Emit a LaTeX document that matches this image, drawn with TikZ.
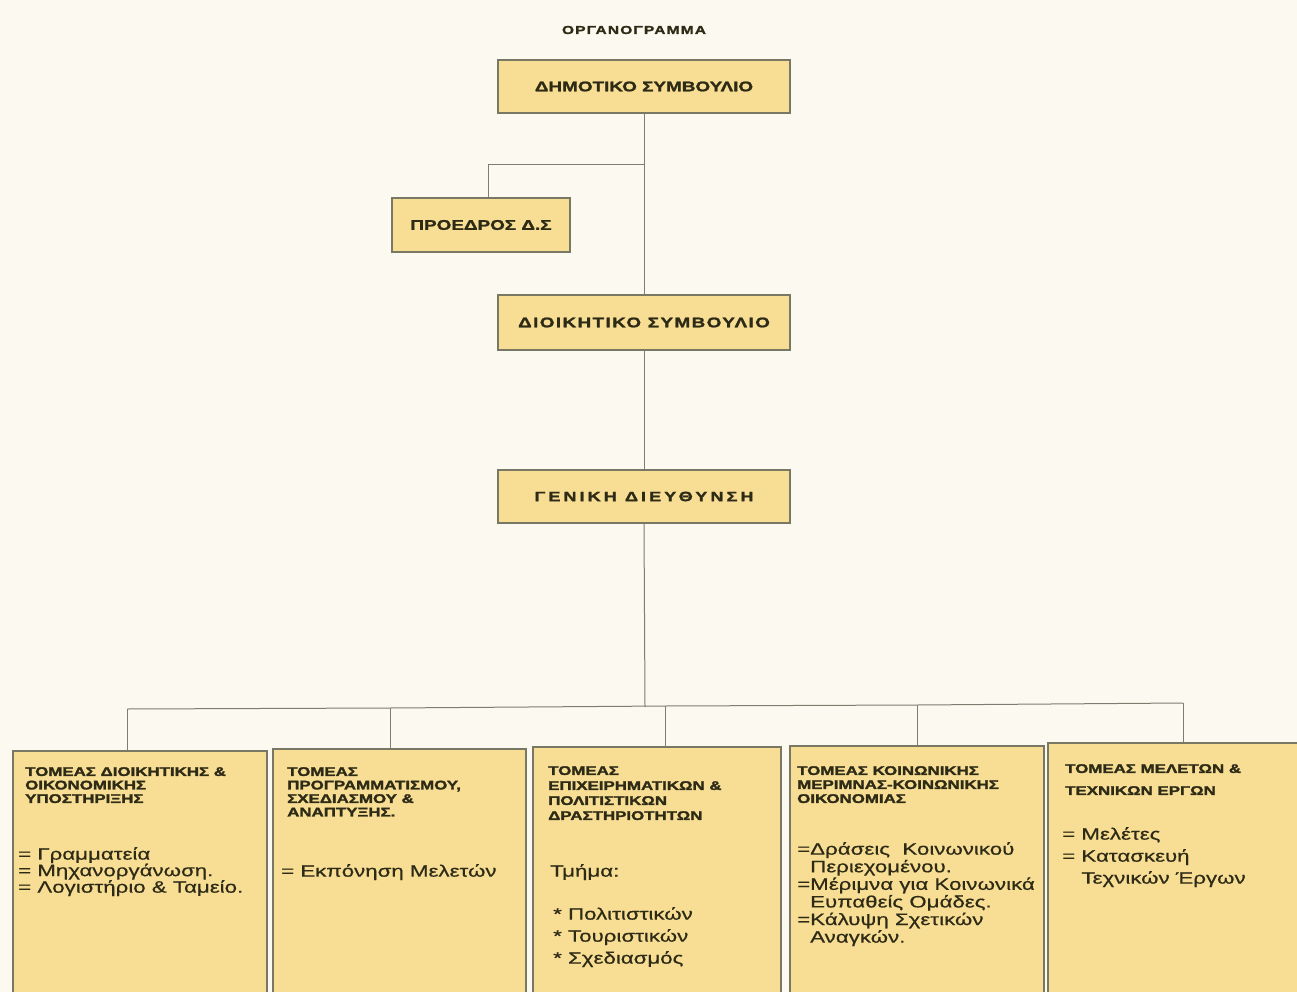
\documentclass[tikz,border=0pt]{standalone}
\usepackage{fontspec}
\setmainfont{Liberation Sans}
\newfontfamily\tbfont[FakeStretch=1.35,FakeBold=1.5]{Liberation Sans Bold}
\newfontfamily\tbwide[FakeStretch=1.35,FakeBold=1.5,LetterSpace=10]{Liberation Sans Bold}
\newfontfamily\tbwider[FakeStretch=1.35,FakeBold=1.5,LetterSpace=22]{Liberation Sans Bold}
\newfontfamily\hdfont[FakeStretch=1.35,FakeBold=2]{Liberation Sans Bold}
\newfontfamily\itfont[FakeStretch=1.35,FakeBold=0.6]{Liberation Sans}
\definecolor{bg}{RGB}{252,250,240}
\definecolor{boxfill}{RGB}{248,222,148}
\definecolor{boxline}{RGB}{120,120,100}
\definecolor{conn}{RGB}{125,125,112}
\definecolor{ink}{RGB}{45,42,22}
\tikzset{
  topbox/.style={draw=boxline, line width=1.6pt, fill=boxfill, inner sep=0pt, text=ink},
  botbox/.style={draw=boxline, line width=1.6pt, fill=boxfill, inner sep=0pt, anchor=north west},
  hdtext/.style={anchor=north west, inner sep=0pt, align=left, text=ink, font=\hdfont\fontsize{12.5}{13.5}\selectfont},
  ittext/.style={anchor=north west, inner sep=0pt, align=left, text=ink},
  connector/.style={draw=conn, line width=1pt}
}
\begin{document}
\begin{tikzpicture}[x=1pt,y=-1pt]
\useasboundingbox (0,0) rectangle (1297,992);
\clip (0,0) rectangle (1297,992);
\fill[bg] (0,0) rectangle (1297,992);

\node[inner sep=0pt, text=ink, font=\tbwide\fontsize{11.5}{12}\selectfont] (title) at (634,30) {ΟΡΓΑΝΟΓΡΑΜΜΑ};

\node[topbox, minimum width=292, minimum height=53, font=\tbfont\fontsize{14}{15}\selectfont] (dimos) at (644,86.5) {ΔΗΜΟΤΙΚΟ ΣΥΜΒΟΥΛΙΟ};
\node[topbox, minimum width=178, minimum height=54, font=\tbfont\fontsize{14}{15}\selectfont] (proedros) at (481,225) {ΠΡΟΕΔΡΟΣ Δ.Σ};
\node[topbox, minimum width=292, minimum height=55, font=\tbwide\fontsize{14}{15}\selectfont] (dioik) at (644,322.5) {ΔΙΟΙΚΗΤΙΚΟ ΣΥΜΒΟΥΛΙΟ};
\node[topbox, minimum width=292, minimum height=53, font=\tbwider\fontsize{13.5}{14}\selectfont] (geniki) at (644,496.5) {ΓΕΝΙΚΗ ΔΙΕΥΘΥΝΣΗ};

% bottom boxes
\node[botbox, minimum width=254, minimum height=260] (ta) at (12,750) {};
\node[botbox, minimum width=253, minimum height=260] (tb) at (272,748) {};
\node[botbox, minimum width=248, minimum height=260] (tc) at (532,746) {};
\node[botbox, minimum width=254, minimum height=260] (td) at (789,745) {};
\node[botbox, minimum width=260, minimum height=260] (te) at (1047,742) {};

% connectors
\draw[connector] (dimos.south) -- (dioik.north);
\draw[connector] (dioik.south) -- (geniki.north);
\coordinate (br) at (645,165);
\coordinate (brp) at (488,165);
\draw[connector] (br) -- (brp) -- (brp |- proedros.north);
\coordinate (busmid) at (645,707);
\coordinate (busA) at (127,709);
\coordinate (busB) at (390,708);
\coordinate (busC) at (665,706);
\coordinate (busD) at (917,705);
\coordinate (busE) at (1183,703);
\draw[connector] (geniki.south) -- (busmid);
\draw[connector] (busA) -- (busB) -- (busC) -- (busD) -- (busE);
\draw[connector] (busA) -- (busA |- ta.north);
\draw[connector] (busB) -- (busB |- tb.north);
\draw[connector] (busC) -- (busC |- tc.north);
\draw[connector] (busD) -- (busD |- td.north);
\draw[connector] (busE) -- (busE |- te.north);

% box A texts
\node[hdtext] (ha) at (25,767) {ΤΟΜΕΑΣ ΔΙΟΙΚΗΤΙΚΗΣ \&\\ΟΙΚΟΝΟΜΙΚΗΣ\\ΥΠΟΣΤΗΡΙΞΗΣ};
\node[ittext, font=\itfont\fontsize{16.5}{16.5}\selectfont] (ia) at (18,847) {= Γραμματεία\\= Μηχανοργάνωση.\\= Λογιστήριο \& Ταμείο.};

% box B texts
\node[hdtext] (hb) at (287,767) {ΤΟΜΕΑΣ\\ΠΡΟΓΡΑΜΜΑΤΙΣΜΟΥ,\\ΣΧΕΔΙΑΣΜΟΥ \&\\ΑΝΑΠΤΥΞΗΣ.};
\node[ittext, font=\itfont\fontsize{16.5}{16.5}\selectfont] (ib) at (281,864) {= Εκπόνηση Μελετών};

% box C texts
\node[hdtext, font=\hdfont\fontsize{12.5}{15}\selectfont] (hc) at (548,766) {ΤΟΜΕΑΣ\\ΕΠΙΧΕΙΡΗΜΑΤΙΚΩΝ \&\\ΠΟΛΙΤΙΣΤΙΚΩΝ\\ΔΡΑΣΤΗΡΙΟΤΗΤΩΝ};
\node[ittext, font=\itfont\fontsize{16.5}{16.5}\selectfont] (tmima) at (550,864) {Τμήμα:};
\node[ittext, font=\itfont\fontsize{16.5}{22}\selectfont] (ic) at (553,907) {* Πολιτιστικών\\* Τουριστικών\\* Σχεδιασμός};

% box D texts
\node[hdtext, font=\hdfont\fontsize{12.5}{14}\selectfont] (hd) at (797,766) {ΤΟΜΕΑΣ ΚΟΙΝΩΝΙΚΗΣ\\ΜΕΡΙΜΝΑΣ-ΚΟΙΝΩΝΙΚΗΣ\\ΟΙΚΟΝΟΜΙΑΣ};
\node[ittext, font=\itfont\fontsize{16.5}{17.6}\selectfont] (id) at (797,842) {=Δράσεις\ \ Κοινωνικού\\\hphantom{=}Περιεχομένου.\\=Μέριμνα για Κοινωνικά\\\hphantom{=}Ευπαθείς Ομάδες.\\=Κάλυψη Σχετικών\\\hphantom{=}Αναγκών.};

% box E texts
\node[hdtext, font=\hdfont\fontsize{12.5}{22}\selectfont] (he) at (1065,764) {ΤΟΜΕΑΣ ΜΕΛΕΤΩΝ \&\\ΤΕΧΝΙΚΩΝ ΕΡΓΩΝ};
\node[ittext, font=\itfont\fontsize{16.5}{22}\selectfont] (ie) at (1062,827) {= Μελέτες\\= Κατασκευή\\\hphantom{= }Τεχνικών Έργων};
\end{tikzpicture}
\end{document}
